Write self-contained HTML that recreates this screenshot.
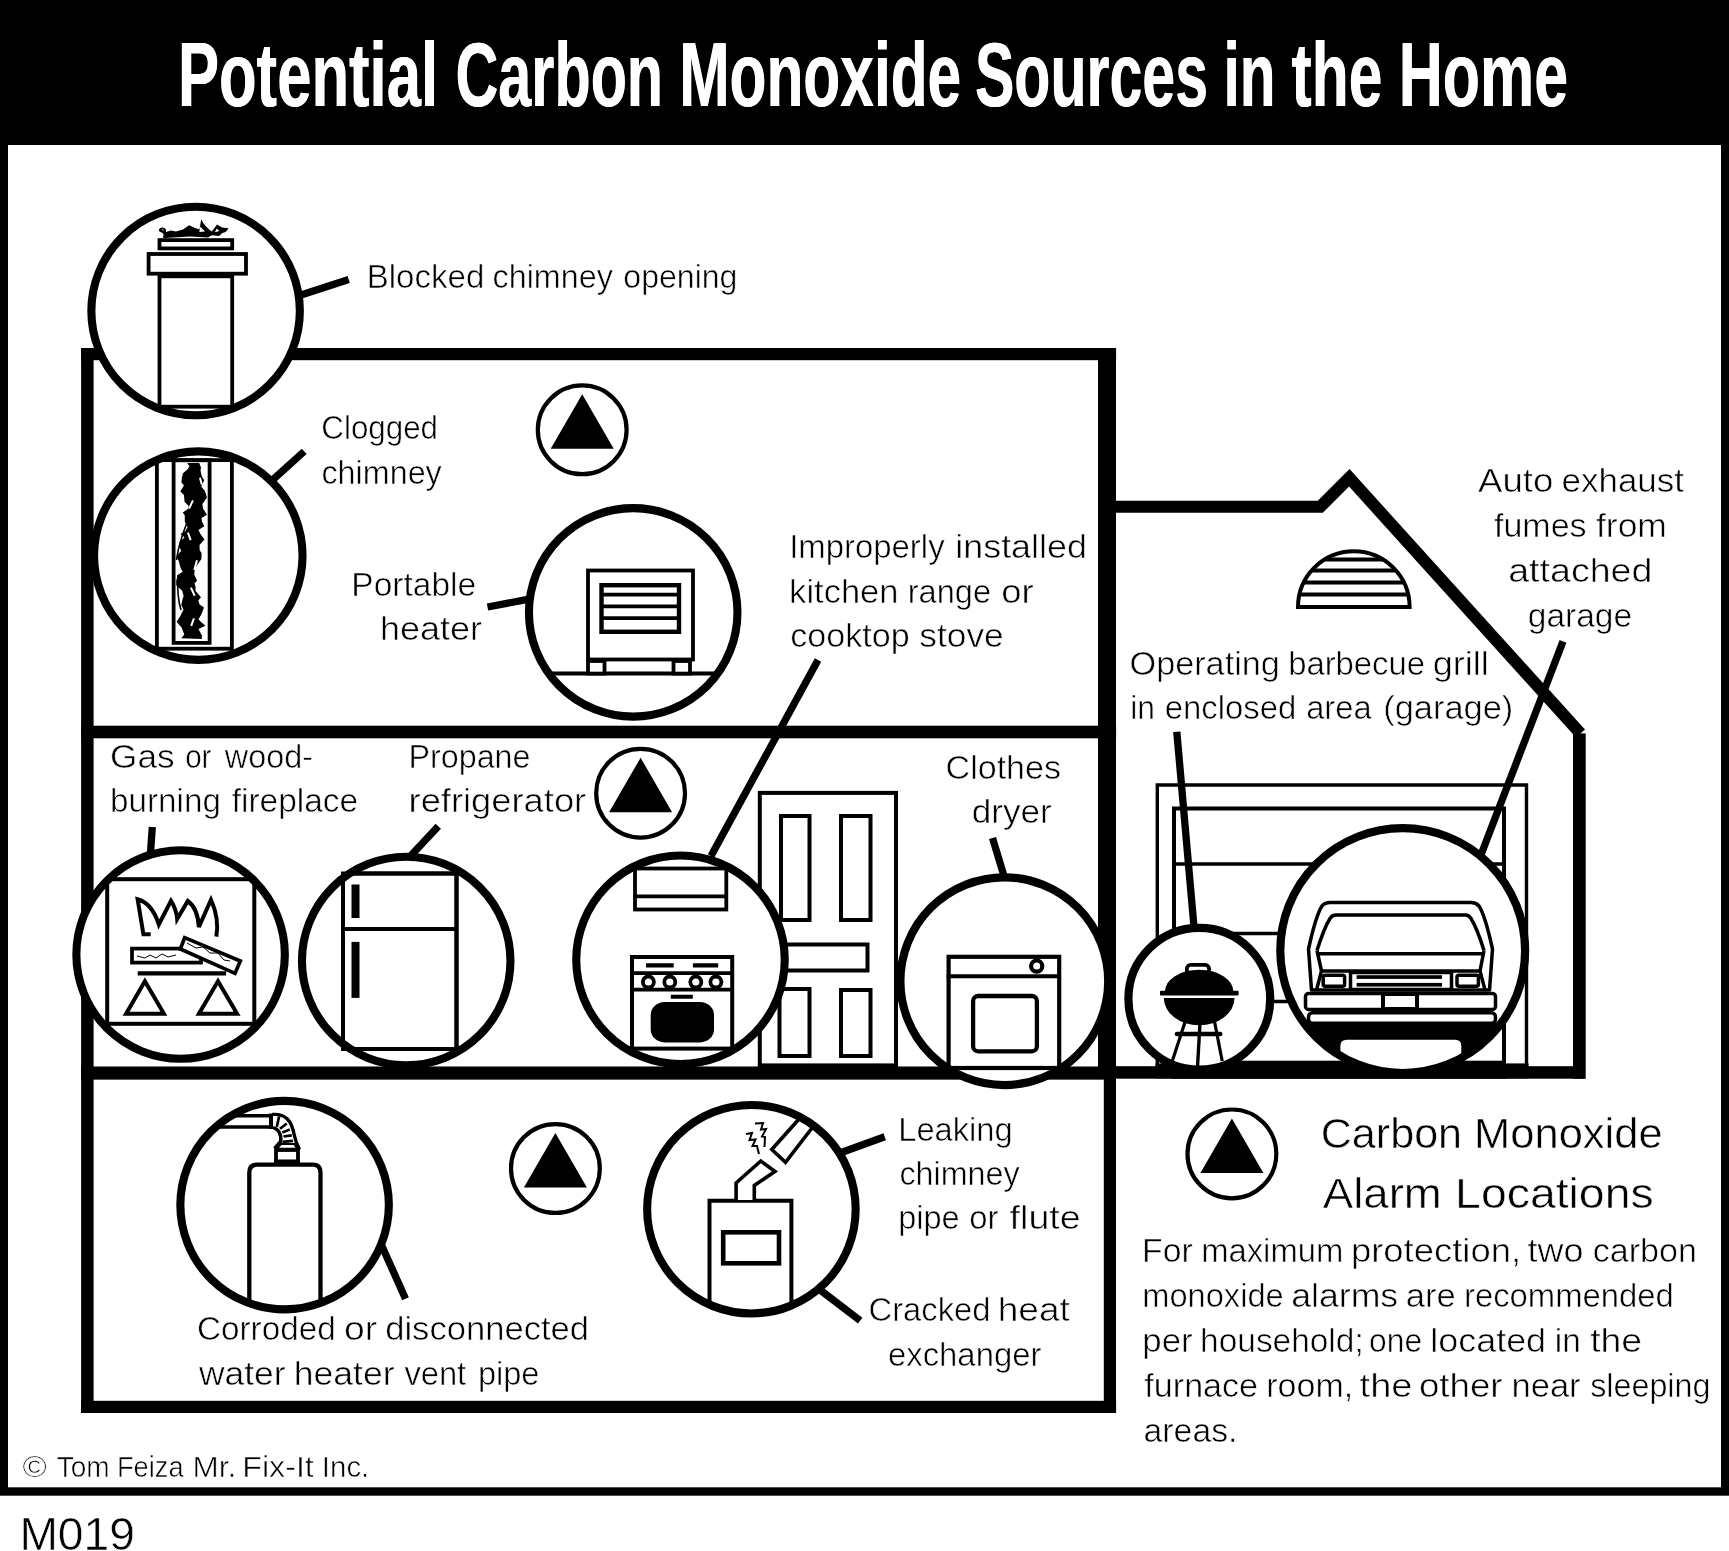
<!DOCTYPE html>
<html><head><meta charset="utf-8"><title>Potential Carbon Monoxide Sources in the Home</title>
<style>
html,body{margin:0;padding:0;background:#fff}
svg{display:block}
text{font-family:"Liberation Sans",sans-serif;fill:#000;stroke:#fff;stroke-width:0.55px}
text.t{fill:#fff;stroke:none}
.l{font-size:32px}
.k{stroke:#000;fill:none}
.w{stroke:#000;fill:#fff}
.b{fill:#000;stroke:none}
</style></head><body>
<svg width="1729" height="1551" viewBox="0 0 1729 1551">
<defs>
<filter id="nf" x="0" y="0" width="1729" height="1551" filterUnits="userSpaceOnUse" color-interpolation-filters="sRGB"><feOffset dx="0" dy="0"/></filter>
<clipPath id="c1"><circle cx="195.6" cy="311" r="104.25"/></clipPath>
<clipPath id="c2"><circle cx="198.3" cy="555.6" r="104.25"/></clipPath>
<clipPath id="c3"><circle cx="633.2" cy="612.4" r="104.25"/></clipPath>
<clipPath id="c4"><circle cx="180.6" cy="954.5" r="104.25"/></clipPath>
<clipPath id="c5"><circle cx="406.2" cy="961" r="104.25"/></clipPath>
<clipPath id="c6"><circle cx="680.5" cy="959.8" r="104.25"/></clipPath>
<clipPath id="c7"><circle cx="1004.3" cy="981.2" r="103.9"/></clipPath>
<clipPath id="c8"><circle cx="1199.3" cy="998.8" r="70.9"/></clipPath>
<clipPath id="c9"><circle cx="1402.7" cy="950.6" r="122.4"/></clipPath>
<clipPath id="c10"><circle cx="284.6" cy="1205.1" r="104.25"/></clipPath>
<clipPath id="c11"><circle cx="751.4" cy="1209.2" r="104.25"/></clipPath>
</defs>
<rect width="1729" height="1551" fill="#fff"/>

<rect x="0" y="0" width="1729" height="145" class="b"/>
<rect x="0" y="140" width="8" height="1355" class="b"/>
<rect x="1721" y="140" width="8" height="1355" class="b"/>
<rect x="0" y="1487.3" width="1729" height="8.4" class="b"/>
<text class="t" x="177.63" y="105.8" font-size="90" font-weight="bold" textLength="260.23" lengthAdjust="spacingAndGlyphs">Potential</text>
<text class="t" x="178.13" y="105.8" font-size="90" font-weight="bold" textLength="260.23" lengthAdjust="spacingAndGlyphs">Potential</text>
<text class="t" x="455.28" y="105.8" font-size="90" font-weight="bold" textLength="207.57" lengthAdjust="spacingAndGlyphs">Carbon</text>
<text class="t" x="455.78" y="105.8" font-size="90" font-weight="bold" textLength="207.57" lengthAdjust="spacingAndGlyphs">Carbon</text>
<text class="t" x="678.88" y="105.8" font-size="90" font-weight="bold" textLength="282.11" lengthAdjust="spacingAndGlyphs">Monoxide</text>
<text class="t" x="679.38" y="105.8" font-size="90" font-weight="bold" textLength="282.11" lengthAdjust="spacingAndGlyphs">Monoxide</text>
<text class="t" x="974.71" y="105.8" font-size="90" font-weight="bold" textLength="233.07" lengthAdjust="spacingAndGlyphs">Sources</text>
<text class="t" x="975.21" y="105.8" font-size="90" font-weight="bold" textLength="233.07" lengthAdjust="spacingAndGlyphs">Sources</text>
<text class="t" x="1223.33" y="105.8" font-size="90" font-weight="bold" textLength="51.98" lengthAdjust="spacingAndGlyphs">in</text>
<text class="t" x="1223.83" y="105.8" font-size="90" font-weight="bold" textLength="51.98" lengthAdjust="spacingAndGlyphs">in</text>
<text class="t" x="1291.35" y="105.8" font-size="90" font-weight="bold" textLength="90.64" lengthAdjust="spacingAndGlyphs">the</text>
<text class="t" x="1291.85" y="105.8" font-size="90" font-weight="bold" textLength="90.64" lengthAdjust="spacingAndGlyphs">the</text>
<text class="t" x="1398.60" y="105.8" font-size="90" font-weight="bold" textLength="169.23" lengthAdjust="spacingAndGlyphs">Home</text>
<text class="t" x="1399.10" y="105.8" font-size="90" font-weight="bold" textLength="169.23" lengthAdjust="spacingAndGlyphs">Home</text>
<g class="b">
<rect x="81.1" y="348" width="12.5" height="1065"/>
<rect x="81.1" y="348" width="1035" height="12.2"/>
<rect x="81.1" y="725.7" width="1035" height="12.6"/>
<rect x="81" y="1066.7" width="1035" height="12.7"/>
<rect x="81.1" y="1400.8" width="1035" height="12.2"/>
<rect x="1116" y="1066.2" width="469" height="12.5"/>
<rect x="1573" y="733.4" width="12.7" height="345.3"/>
</g>
<polyline class="k" stroke-width="12.1" stroke-linejoin="miter" points="1110,506.8 1320.3,506.8 1349.3,477.8 1580.5,733.5"/>
<path class="w" stroke-width="4" d="M1298,607 A55.8,55.8 0 0 1 1409.6,607 Z"/>
<line class="k" stroke-width="4" x1="1324.5" y1="559.5" x2="1383.1" y2="559.5"/>
<line class="k" stroke-width="4" x1="1311.6" y1="570.5" x2="1396.0" y2="570.5"/>
<line class="k" stroke-width="4" x1="1303.7" y1="582.5" x2="1403.9" y2="582.5"/>
<line class="k" stroke-width="4" x1="1299.4" y1="594.5" x2="1408.2" y2="594.5"/>
<g class="w" stroke-width="4">
<rect x="759.8" y="792.9" width="136.2" height="272.5"/>
<rect x="781" y="816" width="28.5" height="104"/>
<rect x="841" y="816" width="29.5" height="104"/>
<rect x="760" y="944.5" width="107.5" height="26"/>
<rect x="779.5" y="989" width="30" height="67"/>
<rect x="841" y="990" width="29.5" height="66"/>
</g>
<rect class="b" x="81" y="1066.7" width="1035" height="12.7"/>
<rect class="b" x="1155.5" y="1063.4" width="373" height="15"/>
<rect class="b" x="1172" y="1060.7" width="334" height="18"/>
<g class="k">
<path stroke-width="3.4" d="M1157.3,1068 V785 H1526.5 V1068"/>
<path stroke-width="4" d="M1174,1068 V808.5 H1504 V1068"/>
<line stroke-width="3.5" x1="1174" y1="864" x2="1504" y2="864"/>
<line stroke-width="3.5" x1="1174" y1="933.5" x2="1504" y2="933.5"/>
<line stroke-width="3.5" x1="1174" y1="1001.5" x2="1504" y2="1001.5"/>
</g>
<circle class="w" stroke-width="4.2" cx="582.2" cy="429.8" r="44.4"/>
<polygon class="b" points="582.2,394.3 550.7,448.8 613.7,448.8"/>
<circle class="w" stroke-width="4.2" cx="640.6" cy="793.2" r="44.4"/>
<polygon class="b" points="640.6,757.7 609.1,812.2 672.1,812.2"/>
<circle class="w" stroke-width="4.2" cx="555.4" cy="1168.5" r="44.4"/>
<polygon class="b" points="555.4,1133.0 523.9,1187.5 586.9,1187.5"/>
<circle class="w" stroke-width="4.2" cx="1231.9" cy="1153.9" r="44.4"/>
<polygon class="b" points="1231.9,1118.4 1200.4,1172.9 1263.4,1172.9"/>
<circle cx="195.6" cy="311" r="104.25" fill="#fff" stroke="none"/>
<g clip-path="url(#c1)"><g class="w" stroke-width="3.8">
<rect x="159.5" y="276.3" width="72.7" height="130.4"/>
<rect x="148.6" y="254" width="97.4" height="19.7"/>
<rect x="159.5" y="240.1" width="72.7" height="8.3"/>
</g>
<path class="b" stroke="#000" stroke-width="2" stroke-linejoin="round" d="M158.8,231 Q159,227.5 162.6,227.6 Q166.8,228.5 166,232 L170.9,230.4 L176,231.5 L183,229.6 L189.1,225.3 L195.2,228 L199.5,229.5 L201.2,219.2 Q205,227 211.8,231.4 L217.1,224.5 L222,227.5 L228.5,228.3 Q226,233 222.4,232.9 L219,236 L211.8,235.2 L208,237.5 L190,236.5 L164.8,238 L162.6,237.4 Q165,234 161.5,232.5 Z"/>
<path fill="#fff" d="M200.3,226.8 L205,231.6 L199.3,232 Z M216.8,228.6 L219.3,231 L214.8,232.2 Z M161.8,229.3 L163.6,229.6 L163.2,231 Z"/>
</g>
<circle class="k" stroke-width="8.1" cx="195.6" cy="311" r="104.25"/>
<circle cx="198.3" cy="555.6" r="104.25" fill="#fff" stroke="none"/>
<g clip-path="url(#c2)"><g class="w" stroke-width="3.8">
<rect x="156.9" y="460.1" width="75" height="188.6"/>
<rect x="173.6" y="460.3" width="36" height="182.6"/>
</g>
<polygon class="b" points="187.3,463.0 189.4,466.2 187.9,469.0 183.0,473.2 181.8,477.9 181.4,482.4 183.9,485.3 180.3,491.5 184.0,495.0 184.5,501.8 188.7,506.1 188.2,508.8 182.8,512.6 184.8,515.6 184.8,521.8 187.6,526.9 185.5,531.1 180.4,533.9 184.5,537.3 179.9,541.7 179.4,546.8 181.2,550.7 176.5,556.3 178.9,561.4 180.6,567.9 182.7,571.7 177.9,574.7 176.2,580.6 176.2,585.3 182.2,590.8 183.6,595.9 182.4,599.8 181.3,605.0 183.5,609.5 180.2,616.3 176.6,621.8 181.6,627.4 184.3,634.4 181.3,638.2 201.8,639.0 202.0,635.8 198.5,629.1 205.4,625.8 201.0,622.1 198.5,619.2 201.3,614.5 204.0,607.5 199.6,604.5 198.3,600.4 201.0,597.3 195.4,590.8 195.6,586.7 194.5,583.5 197.1,580.8 195.6,577.5 194.3,574.7 194.7,569.4 197.2,565.1 201.4,559.0 201.6,553.0 199.7,550.2 199.5,545.0 204.5,539.4 200.6,534.3 198.5,529.9 204.3,526.2 202.0,521.6 201.5,518.0 207.0,514.8 203.0,508.4 202.4,504.0 207.0,497.6 204.9,491.1 201.2,486.6 204.2,480.2 201.9,476.6 200.5,470.6 201.0,467.6 199.2,463.0"/>
<rect x="192" y="500" width="2" height="9" fill="#fff" transform="rotate(25 192 500)"/>
<rect x="187" y="533" width="2" height="8" fill="#fff" transform="rotate(-20 187 533)"/>
<rect x="196" y="560" width="2" height="10" fill="#fff" transform="rotate(15 196 560)"/>
<rect x="190" y="588" width="2" height="9" fill="#fff" transform="rotate(-25 190 588)"/>
<rect x="193" y="618" width="2" height="8" fill="#fff" transform="rotate(20 193 618)"/>
<rect x="199" y="478" width="2" height="7" fill="#fff" transform="rotate(-15 199 478)"/>
<path class="k" stroke-width="1.6" d="M188,520 C182,535 178,548 176.5,560 M178,575 C177,590 178,600 181,610"/>
</g>
<circle class="k" stroke-width="8.1" cx="198.3" cy="555.6" r="104.25"/>
<circle cx="633.2" cy="612.4" r="104.25" fill="#fff" stroke="none"/>
<g clip-path="url(#c3)"><g class="w" stroke-width="3.8">
<line x1="520" y1="673.6" x2="750" y2="673.6" stroke-width="4"/>
<rect x="588" y="661" width="16.5" height="12.6"/>
<rect x="673.5" y="661" width="16.5" height="12.6"/>
<rect x="588" y="570.5" width="105" height="89"/>
<rect x="601.5" y="585.2" width="77.5" height="46.6" stroke-width="4.4"/>
<line x1="601" y1="594.6" x2="679" y2="594.6"/>
<line x1="601" y1="606.3" x2="679" y2="606.3"/>
<line x1="601" y1="618.1" x2="679" y2="618.1"/>
</g></g>
<circle class="k" stroke-width="8.1" cx="633.2" cy="612.4" r="104.25"/>
<circle cx="180.6" cy="954.5" r="104.25" fill="#fff" stroke="none"/>
<g clip-path="url(#c4)"><g class="w" stroke-width="4">
<rect x="107.2" y="879.2" width="147.1" height="144.6"/>
<path fill="none" stroke-width="4" stroke-linejoin="miter" d="M150.7,934.3 L143.4,934.3 L137.6,899.2 Q152,903 158.8,924.5 L171,900.8 Q176.5,910 177.2,919 L187.8,901 Q197.6,908 198.9,927 L211,899.8 Q219.6,919.2 216.3,936.6"/>
<line x1="137.7" y1="973.4" x2="226.1" y2="973.4" stroke-width="4.1"/>
<rect x="132" y="948.6" width="69" height="14" stroke-width="3.7"/>
<polyline fill="none" stroke-width="1" points="137,956 145,958 150,955 156,958 162,954 168,957 176,955"/>
<polygon points="184.7,937.6 240.3,961 235,973.4 180.3,949" stroke-width="3.7"/>
<polyline fill="none" stroke-width="1" points="187,943 196,948 203,947 210,953 218,953 224,960 230,961"/>
<polygon points="144.9,981.2 126.1,1013.7 163.9,1013.7" stroke-width="4"/>
<polygon points="218,981.2 198.9,1013.7 237.1,1013.7" stroke-width="4"/>
</g></g>
<circle class="k" stroke-width="8.1" cx="180.6" cy="954.5" r="104.25"/>
<circle cx="406.2" cy="961" r="104.25" fill="#fff" stroke="none"/>
<g clip-path="url(#c5)"><g class="w" stroke-width="4">
<rect x="343" y="873.5" width="113.5" height="175.5"/>
<line x1="343" y1="929" x2="456.5" y2="929"/>
<rect class="b" x="351.5" y="884.5" width="8" height="33.5" stroke="none"/>
<rect class="b" x="351.5" y="941.9" width="8" height="56" stroke="none"/>
</g></g>
<circle class="k" stroke-width="8.1" cx="406.2" cy="961" r="104.25"/>
<rect class="k" stroke-width="4" x="343" y="873.5" width="113.5" height="175.5"/>
<circle cx="680.5" cy="959.8" r="104.25" fill="#fff" stroke="none"/>
<g clip-path="url(#c6)"><g class="w" stroke-width="3.8">
<rect x="635" y="868.5" width="91.3" height="41"/>
<line x1="635" y1="896.4" x2="726" y2="896.4"/>
<rect x="632" y="957" width="100.2" height="91.6" stroke-width="4"/>
<line x1="632" y1="973.2" x2="732" y2="973.2" stroke-width="3.8"/>
<line x1="632" y1="989.7" x2="732" y2="989.7" stroke-width="3.8"/>
<line x1="646" y1="965.3" x2="673.7" y2="965.3" stroke-width="4.2"/>
<line x1="692.9" y1="965.3" x2="718.2" y2="965.3" stroke-width="4.2"/>
<circle cx="648.4" cy="982" r="5.5" stroke-width="3.8"/>
<circle cx="669.8" cy="982" r="5.5" stroke-width="3.8"/>
<circle cx="695.8" cy="982" r="5.5" stroke-width="3.8"/>
<circle cx="715.9" cy="982" r="5.5" stroke-width="3.8"/>
<line x1="670.8" y1="996.7" x2="692.8" y2="996.7" stroke-width="4"/>
<rect class="b" x="650.7" y="1002" width="63.3" height="40.4" rx="14" ry="13" stroke="none"/>
</g></g>
<circle class="k" stroke-width="8.1" cx="680.5" cy="959.8" r="104.25"/>
<rect class="b" x="1098" y="348" width="18" height="731"/>
<rect class="b" x="1103.8" y="1066" width="12.2" height="347"/>
<circle cx="1004.3" cy="981.2" r="103.9" fill="#fff" stroke="none"/>
<g clip-path="url(#c7)"><g class="w" stroke-width="3.8">
<rect x="948.6" y="956.8" width="110.6" height="111.2" stroke-width="4.2"/>
<line x1="946.6" y1="976.2" x2="1059" y2="976.2" stroke-width="4"/>
<circle cx="1036.7" cy="966.1" r="5.6" stroke-width="4.2"/>
<rect x="973.1" y="996" width="63.8" height="55.3" rx="5" stroke-width="4.3"/>
</g></g>
<circle class="k" stroke-width="8.15" cx="1004.3" cy="981.2" r="103.9"/>
<circle cx="1199.3" cy="998.8" r="70.9" fill="#fff" stroke="none"/>
<g clip-path="url(#c8)">
<path class="b" d="M1164.9,991.7 A34.25,22 0 0 1 1233.4,991.7 Z"/>
<rect class="k" stroke-width="3.8" x="1186.8" y="964.9" width="22.3" height="9" rx="4"/>
<rect class="b" x="1160" y="990.8" width="78.6" height="4.7" rx="1"/>
<path class="b" d="M1163.8,998 H1234.5 A35.35,27.2 0 0 1 1163.8,998 Z"/>
<g class="k" stroke-width="3.2"><line x1="1185.2" y1="1021.5" x2="1172.3" y2="1061"/><line x1="1214.5" y1="1021.5" x2="1222.2" y2="1061"/><line x1="1200" y1="1023" x2="1197.5" y2="1067" stroke-width="3.4"/></g>
<line class="k" stroke-width="4.7" stroke-linecap="round" x1="1177" y1="1034" x2="1220.2" y2="1034"/>
</g>
<circle class="k" stroke-width="8.2" cx="1199.3" cy="998.8" r="70.9"/>
<circle cx="1402.7" cy="950.6" r="122.4" fill="#fff" stroke="none"/>
<g clip-path="url(#c9)">
<rect class="b" x="1270" y="1022" width="270" height="70"/>
<path d="M1340.4,1100 V1046 Q1340.4,1039.7 1347,1039.7 H1455 Q1461.3,1039.7 1461.3,1046 V1100 Z" fill="#fff"/>
<g class="w" stroke-width="3.5" stroke-linejoin="round">
<path d="M1311.5,990 L1308.5,949 Q1316,915 1322,906 Q1325,902.5 1330,902.5 H1471 Q1476,902.5 1479,906 Q1485,915 1492.5,949 L1489.5,990 Z"/>
<path d="M1317,950.5 Q1324,928 1330,918.5 Q1332,915 1336,915 H1465.5 Q1469,915 1471,918.5 Q1477,928 1484,950.5" fill="none"/>
<line x1="1318.5" y1="953.8" x2="1483" y2="953.8"/>
<path d="M1317,950.5 L1321.5,971 H1480 L1484,950.5" fill="none"/>
<path d="M1321.5,971 L1316.5,990 M1480,971 L1485,990" fill="none"/>
<rect x="1323.2" y="975.2" width="21.4" height="11" rx="2"/>
<rect x="1457" y="975.2" width="21.4" height="11" rx="2"/>
<rect x="1350.5" y="972.5" width="101" height="17"/>
<rect class="b" x="1356.6" y="975.2" width="85.4" height="3.7" stroke="none"/>
<rect class="b" x="1356.6" y="982.9" width="85.4" height="3.7" stroke="none"/>
<rect x="1305.5" y="993.5" width="190" height="16" rx="3"/>
<rect x="1383" y="994" width="34" height="15" stroke-width="4"/>
<rect x="1308.5" y="1012.8" width="187" height="10.5" rx="4"/>
</g></g>
<circle class="k" stroke-width="8.2" cx="1402.7" cy="950.6" r="122.4"/>
<circle cx="284.6" cy="1205.1" r="104.25" fill="#fff" stroke="none"/>
<g clip-path="url(#c10)"><g class="w" stroke-width="3.8">
<path stroke-width="4.3" d="M249.3,1330 V1172.5 Q249.3,1164.7 257,1164.7 H312.8 Q320.5,1164.7 320.5,1172.5 V1330"/>
<rect x="276" y="1150" width="22" height="13.5"/><rect class="b" x="274" y="1159.5" width="26" height="4" stroke="none"/>
<path d="M160,1115.7 H271 M160,1127 H271" stroke-width="3.5"/>
<path d="M271,1113.5 V1129" stroke-width="4"/>
<path d="M272.2,1114.4 C286,1113.5 291.5,1121 294,1134 Q295.5,1142 299.5,1149.5 M273.1,1127.5 C279,1129.5 281.5,1134 280.7,1141.5 L274.5,1148.5" fill="none" stroke-width="3.4"/>
<path d="M279.1,1116.5 L276.8,1127 M286.8,1123.5 L280,1128.8 M289.8,1129.6 L282.3,1132.4 M291.8,1135.3 L283.5,1136.5 M293,1140.9 L282.5,1141.8" fill="none" stroke-width="2.7"/>
<path d="M281,1144 L277,1148.7 H297 L294.5,1144 Z" stroke-width="2"/>
</g></g>
<circle class="k" stroke-width="8.1" cx="284.6" cy="1205.1" r="104.25"/>
<circle cx="751.4" cy="1209.2" r="104.25" fill="#fff" stroke="none"/>
<g clip-path="url(#c11)"><g class="w" stroke-width="4">
<path d="M709.5,1330 V1200.8 H791.4 V1330"/>
<rect x="723.2" y="1232.3" width="55.8" height="31" stroke-width="4.6"/>
<path d="M736.1,1200 V1183 L760.8,1161 L775,1171.5 L754.3,1185.5 V1200" stroke-width="3.6"/>
<path d="M798.8,1119.3 L771.8,1149.5 L785.5,1162.3 L812,1128" stroke-width="3.6"/>
<polyline fill="none" stroke-width="2" points="755,1123.5 763,1123 761,1129.5 766,1129 762,1136.5 765,1137 764.5,1147"/>
<polyline fill="none" stroke-width="2" points="746,1134 752,1133 749.5,1140 755.5,1139.5 752.5,1146 757,1146 759,1154"/>
</g></g>
<circle class="k" stroke-width="8.1" cx="751.4" cy="1209.2" r="104.25"/>
<g class="k" stroke-width="7.3">
<line x1="348.7" y1="279.5" x2="301" y2="295"/>
<line x1="304.2" y1="451.4" x2="272.5" y2="480"/>
<line x1="487.5" y1="607" x2="529" y2="599.2"/>
<line x1="818" y1="660" x2="711" y2="856"/>
<line x1="152.3" y1="826.9" x2="150.5" y2="853"/>
<line x1="438.3" y1="826.2" x2="410.5" y2="856"/>
<line x1="992.5" y1="838" x2="1004" y2="876"/>
<line x1="1176.8" y1="731.8" x2="1194" y2="927"/>
<line x1="1563" y1="641.4" x2="1481.5" y2="853.5"/>
<line x1="382" y1="1246.2" x2="405.5" y2="1298.8"/>
<line x1="884.7" y1="1136.8" x2="840" y2="1153"/>
<line x1="819.5" y1="1289.5" x2="860.2" y2="1320.7"/>
</g>
<g filter="url(#nf)">
<text x="366.68" y="287.7" font-size="33" textLength="117.61" lengthAdjust="spacingAndGlyphs">Blocked</text>
<text x="492.57" y="287.7" font-size="33" textLength="120.25" lengthAdjust="spacingAndGlyphs">chimney</text>
<text x="623.35" y="287.7" font-size="33" textLength="114.11" lengthAdjust="spacingAndGlyphs">opening</text>
<text x="321.36" y="439" font-size="33" textLength="116.68" lengthAdjust="spacingAndGlyphs">Clogged</text>
<text x="321.38" y="484.3" font-size="33" textLength="120.42" lengthAdjust="spacingAndGlyphs">chimney</text>
<text x="351.32" y="595.7" font-size="33" textLength="124.91" lengthAdjust="spacingAndGlyphs">Portable</text>
<text x="379.91" y="640.3" font-size="33" textLength="102.11" lengthAdjust="spacingAndGlyphs">heater</text>
<text x="789.15" y="557.6" font-size="33" textLength="155.45" lengthAdjust="spacingAndGlyphs">Improperly</text>
<text x="955.31" y="557.6" font-size="33" textLength="131.58" lengthAdjust="spacingAndGlyphs">installed</text>
<text x="789.13" y="602.5" font-size="33" textLength="109.36" lengthAdjust="spacingAndGlyphs">kitchen</text>
<text x="907.70" y="602.5" font-size="33" textLength="83.39" lengthAdjust="spacingAndGlyphs">range</text>
<text x="1001.29" y="602.5" font-size="33" textLength="32.37" lengthAdjust="spacingAndGlyphs">or</text>
<text x="790.16" y="646.5" font-size="33" textLength="119.46" lengthAdjust="spacingAndGlyphs">cooktop</text>
<text x="919.35" y="646.5" font-size="33" textLength="84.33" lengthAdjust="spacingAndGlyphs">stove</text>
<text x="110.14" y="768" font-size="33" textLength="64.53" lengthAdjust="spacingAndGlyphs">Gas</text>
<text x="185.13" y="768" font-size="33" textLength="26.31" lengthAdjust="spacingAndGlyphs">or</text>
<text x="224.79" y="768" font-size="33" textLength="88.22" lengthAdjust="spacingAndGlyphs">wood-</text>
<text x="110.12" y="811.7" font-size="33" textLength="110.75" lengthAdjust="spacingAndGlyphs">burning</text>
<text x="231.79" y="811.7" font-size="33" textLength="126.23" lengthAdjust="spacingAndGlyphs">fireplace</text>
<text x="408.52" y="768" font-size="33" textLength="121.94" lengthAdjust="spacingAndGlyphs">Propane</text>
<text x="408.55" y="811.7" font-size="33" textLength="177.67" lengthAdjust="spacingAndGlyphs">refrigerator</text>
<text x="945.54" y="778.7" font-size="33" textLength="115.50" lengthAdjust="spacingAndGlyphs">Clothes</text>
<text x="971.77" y="823.2" font-size="33" textLength="80.03" lengthAdjust="spacingAndGlyphs">dryer</text>
<text x="1129.56" y="674.7" font-size="33" textLength="150.30" lengthAdjust="spacingAndGlyphs">Operating</text>
<text x="1288.16" y="674.7" font-size="33" textLength="136.90" lengthAdjust="spacingAndGlyphs">barbecue</text>
<text x="1432.66" y="674.7" font-size="33" textLength="56.13" lengthAdjust="spacingAndGlyphs">grill</text>
<text x="1130.23" y="719" font-size="33" textLength="24.75" lengthAdjust="spacingAndGlyphs">in</text>
<text x="1164.75" y="719" font-size="33" textLength="131.52" lengthAdjust="spacingAndGlyphs">enclosed</text>
<text x="1306.16" y="719" font-size="33" textLength="65.45" lengthAdjust="spacingAndGlyphs">area</text>
<text x="1383.31" y="719" font-size="33" textLength="129.98" lengthAdjust="spacingAndGlyphs">(garage)</text>
<text x="1478.00" y="492.2" font-size="33" textLength="75.22" lengthAdjust="spacingAndGlyphs">Auto</text>
<text x="1561.56" y="492.2" font-size="33" textLength="122.45" lengthAdjust="spacingAndGlyphs">exhaust</text>
<text x="1494.00" y="537.2" font-size="33" textLength="92.63" lengthAdjust="spacingAndGlyphs">fumes</text>
<text x="1596.00" y="537.2" font-size="33" textLength="70.89" lengthAdjust="spacingAndGlyphs">from</text>
<text x="1508.17" y="582.2" font-size="33" textLength="144.30" lengthAdjust="spacingAndGlyphs">attached</text>
<text x="1527.78" y="626.9" font-size="33" textLength="104.25" lengthAdjust="spacingAndGlyphs">garage</text>
<text x="898.29" y="1140.6" font-size="33" textLength="114.36" lengthAdjust="spacingAndGlyphs">Leaking</text>
<text x="899.39" y="1184.5" font-size="33" textLength="120.20" lengthAdjust="spacingAndGlyphs">chimney</text>
<text x="898.28" y="1229" font-size="33" textLength="61.40" lengthAdjust="spacingAndGlyphs">pipe</text>
<text x="969.27" y="1229" font-size="33" textLength="29.20" lengthAdjust="spacingAndGlyphs">or</text>
<text x="1009.58" y="1229" font-size="33" textLength="71.06" lengthAdjust="spacingAndGlyphs">flute</text>
<text x="868.54" y="1321.3" font-size="33" textLength="121.94" lengthAdjust="spacingAndGlyphs">Cracked</text>
<text x="997.67" y="1321.3" font-size="33" textLength="72.14" lengthAdjust="spacingAndGlyphs">heat</text>
<text x="887.98" y="1365.8" font-size="33" textLength="153.44" lengthAdjust="spacingAndGlyphs">exchanger</text>
<text x="196.94" y="1340.1" font-size="33" textLength="138.72" lengthAdjust="spacingAndGlyphs">Corroded</text>
<text x="344.13" y="1340.1" font-size="33" textLength="33.10" lengthAdjust="spacingAndGlyphs">or</text>
<text x="385.17" y="1340.1" font-size="33" textLength="203.87" lengthAdjust="spacingAndGlyphs">disconnected</text>
<text x="199.00" y="1384.7" font-size="33" textLength="86.61" lengthAdjust="spacingAndGlyphs">water</text>
<text x="293.71" y="1384.7" font-size="33" textLength="100.90" lengthAdjust="spacingAndGlyphs">heater</text>
<text x="404.40" y="1384.7" font-size="33" textLength="61.81" lengthAdjust="spacingAndGlyphs">vent</text>
<text x="477.88" y="1384.7" font-size="33" textLength="61.59" lengthAdjust="spacingAndGlyphs">pipe</text>
<text x="1320.72" y="1148.3" font-size="43" textLength="141.35" lengthAdjust="spacingAndGlyphs">Carbon</text>
<text x="1474.10" y="1148.3" font-size="43" textLength="188.56" lengthAdjust="spacingAndGlyphs">Monoxide</text>
<text x="1322.79" y="1208.4" font-size="43" textLength="119.09" lengthAdjust="spacingAndGlyphs">Alarm</text>
<text x="1455.12" y="1208.4" font-size="43" textLength="198.52" lengthAdjust="spacingAndGlyphs">Locations</text>
<text x="1142.06" y="1262" font-size="33" textLength="50.57" lengthAdjust="spacingAndGlyphs">For</text>
<text x="1201.15" y="1262" font-size="33" textLength="142.13" lengthAdjust="spacingAndGlyphs">maximum</text>
<text x="1350.91" y="1262" font-size="33" textLength="170.19" lengthAdjust="spacingAndGlyphs">protection,</text>
<text x="1527.57" y="1262" font-size="33" textLength="55.88" lengthAdjust="spacingAndGlyphs">two</text>
<text x="1592.74" y="1262" font-size="33" textLength="104.13" lengthAdjust="spacingAndGlyphs">carbon</text>
<text x="1142.34" y="1307.2" font-size="33" textLength="141.31" lengthAdjust="spacingAndGlyphs">monoxide</text>
<text x="1291.17" y="1307.2" font-size="33" textLength="107.07" lengthAdjust="spacingAndGlyphs">alarms</text>
<text x="1405.67" y="1307.2" font-size="33" textLength="50.00" lengthAdjust="spacingAndGlyphs">are</text>
<text x="1463.97" y="1307.2" font-size="33" textLength="209.88" lengthAdjust="spacingAndGlyphs">recommended</text>
<text x="1142.27" y="1351.9" font-size="33" textLength="50.35" lengthAdjust="spacingAndGlyphs">per</text>
<text x="1200.11" y="1351.9" font-size="33" textLength="163.58" lengthAdjust="spacingAndGlyphs">household;</text>
<text x="1369.12" y="1351.9" font-size="33" textLength="52.92" lengthAdjust="spacingAndGlyphs">one</text>
<text x="1430.31" y="1351.9" font-size="33" textLength="115.78" lengthAdjust="spacingAndGlyphs">located</text>
<text x="1554.77" y="1351.9" font-size="33" textLength="25.97" lengthAdjust="spacingAndGlyphs">in</text>
<text x="1590.18" y="1351.9" font-size="33" textLength="51.95" lengthAdjust="spacingAndGlyphs">the</text>
<text x="1144.39" y="1396.7" font-size="33" textLength="113.63" lengthAdjust="spacingAndGlyphs">furnace</text>
<text x="1266.23" y="1396.7" font-size="33" textLength="86.97" lengthAdjust="spacingAndGlyphs">room,</text>
<text x="1359.55" y="1396.7" font-size="33" textLength="52.95" lengthAdjust="spacingAndGlyphs">the</text>
<text x="1418.95" y="1396.7" font-size="33" textLength="83.66" lengthAdjust="spacingAndGlyphs">other</text>
<text x="1511.52" y="1396.7" font-size="33" textLength="69.10" lengthAdjust="spacingAndGlyphs">near</text>
<text x="1590.17" y="1396.7" font-size="33" textLength="120.27" lengthAdjust="spacingAndGlyphs">sleeping</text>
<text x="1143.53" y="1441.8" font-size="33" textLength="93.99" lengthAdjust="spacingAndGlyphs">areas.</text>
<text x="22.55" y="1476.7" font-size="29" textLength="24.27" lengthAdjust="spacingAndGlyphs">©</text>
<text x="56.76" y="1476.7" font-size="29" textLength="52.93" lengthAdjust="spacingAndGlyphs">Tom</text>
<text x="116.90" y="1476.7" font-size="29" textLength="66.68" lengthAdjust="spacingAndGlyphs">Feiza</text>
<text x="192.62" y="1476.7" font-size="29" textLength="43.76" lengthAdjust="spacingAndGlyphs">Mr.</text>
<text x="242.28" y="1476.7" font-size="29" textLength="71.56" lengthAdjust="spacingAndGlyphs">Fix-It</text>
<text x="321.86" y="1476.7" font-size="29" textLength="47.45" lengthAdjust="spacingAndGlyphs">Inc.</text>
<text x="19.42" y="1549.8" font-size="46" textLength="115.50" lengthAdjust="spacingAndGlyphs">M019</text>
</g>
</svg></body></html>
